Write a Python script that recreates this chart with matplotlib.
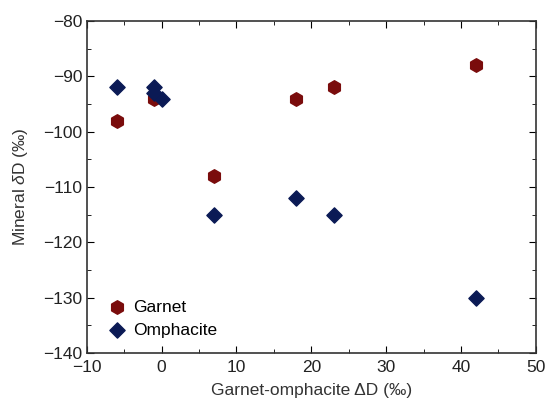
import matplotlib
matplotlib.use('Agg')
import matplotlib.pyplot as plt
from matplotlib.ticker import MultipleLocator

plt.rcParams['font.family'] = ['Liberation Sans', 'DejaVu Sans']
plt.rcParams['mathtext.fontset'] = 'custom'
plt.rcParams['mathtext.it'] = 'Liberation Sans:italic'
plt.rcParams['mathtext.rm'] = 'Liberation Sans'

# Garnet-omphacite ΔD (x) and mineral δD (y)
garnet_x = [-6, -1, 7, 18, 23, 42]
garnet_y = [-98, -94, -108, -94, -92, -88]
omph_x = [-6, -1, -1, 0, 7, 18, 23, 42]
omph_y = [-92, -92, -93, -94, -115, -112, -115, -130]

fig = plt.figure(figsize=(5.49, 4.05), dpi=100)
ax = fig.add_axes([0.158, 0.128, 0.818, 0.820])

ax.scatter(garnet_x, garnet_y, marker='h', s=95, color='#7a0c0c', label='Garnet', zorder=3)
ax.scatter(omph_x, omph_y, marker='D', s=60, color='#0b1a55', label='Omphacite', zorder=4)

ax.set_xlim(-10, 50)
ax.set_ylim(-140, -80)
ax.xaxis.set_major_locator(MultipleLocator(10))
ax.xaxis.set_minor_locator(MultipleLocator(5))
ax.yaxis.set_major_locator(MultipleLocator(10))
ax.yaxis.set_minor_locator(MultipleLocator(5))
ax.tick_params(which='both', direction='in', top=True, right=True, labelsize=12.5,
               labelcolor='#222222')
ax.tick_params(axis='x', pad=5)
ax.tick_params(axis='y', pad=3)
ax.tick_params(which='major', length=5)
ax.tick_params(which='minor', length=3)
for s in ax.spines.values():
    s.set_linewidth(1.2)
    s.set_color('#333333')

ax.set_xlabel('Garnet-omphacite ΔD (‰)', fontsize=12.5, color='#333333', labelpad=6)
ax.set_ylabel('Mineral $\\delta$D (‰)', fontsize=12.5, color='#333333', labelpad=10)

ax.legend(loc='lower left', bbox_to_anchor=(0.01, 0.0), frameon=False, fontsize=12.5,
          handletextpad=0.3, labelspacing=0.45, borderaxespad=0.5, handlelength=1.2)

fig.savefig('out.png', dpi=100)
